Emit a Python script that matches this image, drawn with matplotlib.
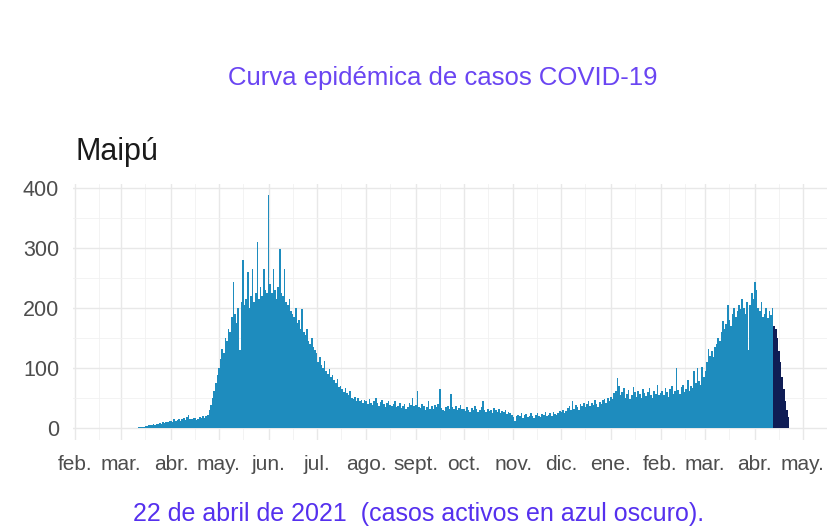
import numpy as np
import pandas as pd
import matplotlib.pyplot as plt
import matplotlib.dates as mdates

plt.rcParams['font.family'] = ['Liberation Sans', 'DejaVu Sans']

# casos diarios Maipú, 12 mar 2020 - 22 abr 2021
mar2020 = [1, 1, 2, 2, 3, 3, 4, 5, 4, 6, 5, 7, 6, 8, 7, 9, 8, 10, 9, 11]
abr2020 = [12, 10, 14, 11, 13, 15, 12, 14, 16, 13, 18, 22, 15, 14, 17,
           16, 13, 15, 18, 16, 20, 17, 19, 22, 30, 38, 50, 62, 74, 88]
may2020 = [100, 115, 132, 125, 150, 145, 165, 160, 185, 243, 190, 175, 200,
           130, 210, 279, 205, 215, 260, 200, 220, 265, 210, 225, 309, 215,
           235, 220, 265, 230, 225]
jun2020 = [387, 240, 225, 265, 230, 215, 235, 298, 225, 220, 265, 210, 205,
           215, 195, 190, 185, 200, 175, 180, 165, 198, 160, 155, 165, 145,
           140, 150, 135, 130]
jul2020 = [125, 110, 118, 105, 100, 112, 95, 90, 98, 85, 88, 80, 75, 82, 68,
           70, 64, 60, 66, 58, 55, 62, 50, 48, 52, 45, 50, 44, 47, 42, 46]
ago2020 = [45, 40, 48, 42, 38, 44, 50, 41, 37, 43, 46, 39, 35, 42, 44, 38,
           36, 40, 45, 34, 37, 41, 33, 36, 39, 32, 35, 42, 38, 50, 36]
sep2020 = [38, 61, 35, 33, 40, 36, 30, 34, 45, 32, 36, 31, 38, 35, 40, 64,
           33, 30, 28, 34, 37, 31, 56, 35, 32, 36, 30, 33, 38, 31]
oct2020 = [32, 28, 35, 30, 27, 33, 29, 36, 31, 26, 30, 34, 45, 29, 27, 32,
           28, 30, 25, 33, 29, 27, 31, 24, 28, 26, 30, 23, 27, 25, 22]
nov2020 = [18, 12, 20, 22, 19, 24, 17, 21, 23, 18, 20, 25, 19, 16, 22, 24,
           20, 18, 23, 21, 26, 19, 22, 24, 20, 27, 23, 21, 25, 28]
dic2020 = [26, 30, 24, 28, 33, 36, 30, 45, 32, 38, 35, 29, 40, 37, 42, 34,
           39, 44, 36, 41, 38, 47, 40, 35, 43, 39, 46, 48, 42, 50, 44]
ene2021 = [52, 48, 58, 62, 83, 70, 55, 60, 66, 50, 57, 63, 48, 54, 68, 59,
           52, 61, 56, 49, 64, 58, 53, 60, 67, 55, 50, 62, 57, 71, 54]
feb2021 = [58, 62, 55, 66, 60, 52, 64, 70, 57, 61, 99, 63, 56, 68, 72, 59,
           65, 80, 62, 70, 66, 95, 74, 100, 78, 72, 102, 85]
mar2021 = [95, 110, 132, 120, 128, 118, 135, 140, 150, 145, 160, 177, 165,
           172, 204, 180, 170, 190, 200, 185, 195, 205, 198, 215, 200, 190,
           210, 130, 205, 225, 215]
abr2021 = [243, 230, 200, 195, 210, 185, 190, 200, 182, 195, 188, 200]
# casos activos (13 - 22 abril 2021)
activos = [170, 165, 150, 128, 110, 85, 65, 45, 30, 18]

meses = ["feb.", "mar.", "abr.", "may.", "jun.", "jul.", "ago.", "sept.",
         "oct.", "nov.", "dic.", "ene.", "feb.", "mar.", "abr.", "may."]

casos = (mar2020 + abr2020 + may2020 + jun2020 + jul2020 + ago2020 + sep2020
         + oct2020 + nov2020 + dic2020 + ene2021 + feb2021 + mar2021 + abr2021)
fechas = pd.date_range("2020-03-12", periods=len(casos), freq="D")
fechas_act = pd.date_range(fechas[-1] + pd.Timedelta(days=1),
                           periods=len(activos), freq="D")

fig = plt.figure(figsize=(8.29, 5.27), dpi=100)
ax = fig.add_axes([0.088, 0.166, 0.9095, 0.485])

ax.bar(fechas, casos, width=1.0, color="#1e8cbe", linewidth=0, zorder=2)
ax.bar(fechas_act, activos, width=1.0, color="#0f1d55", linewidth=0, zorder=2)

ticks = pd.date_range("2020-02-01", periods=len(meses), freq="MS")
ax.set_xticks(ticks)
ax.set_xticklabels(meses)
ax.xaxis.set_minor_locator(mdates.MonthLocator(bymonthday=16))
ax.set_yticks([0, 100, 200, 300, 400])
ax.set_yticks([50, 150, 250, 350], minor=True)

ax.set_xlim(pd.Timestamp("2020-01-30 18:00"), pd.Timestamp("2021-05-16"))
ax.set_ylim(-19.5, 406)

ax.grid(which="major", color="#e8e8e8", linewidth=1.0, zorder=0)
ax.grid(which="minor", color="#f1f1f1", linewidth=0.6, zorder=0)
ax.set_axisbelow(True)
for s in ax.spines.values():
    s.set_visible(False)
ax.tick_params(which="both", length=0)
ax.tick_params(axis="x", labelsize=15, labelcolor="#4d4d4d", pad=11)
ax.tick_params(axis="y", labelsize=15.5, labelcolor="#4d4d4d", pad=10)

fig.text(0.5344, 0.852, "Curva epidémica de casos COVID-19", ha="center",
         va="center", fontsize=18.5, color="#6a45f2")
fig.text(0.0905, 0.6964, "Maipú", ha="left", va="baseline", fontsize=22,
         color="#1a1a1a")
fig.text(0.5054, 0.025, "22 de abril de 2021  (casos activos en azul oscuro).",
         ha="center", va="center", fontsize=18, color="#5530ee")

fig.savefig("out.png", dpi=100)
